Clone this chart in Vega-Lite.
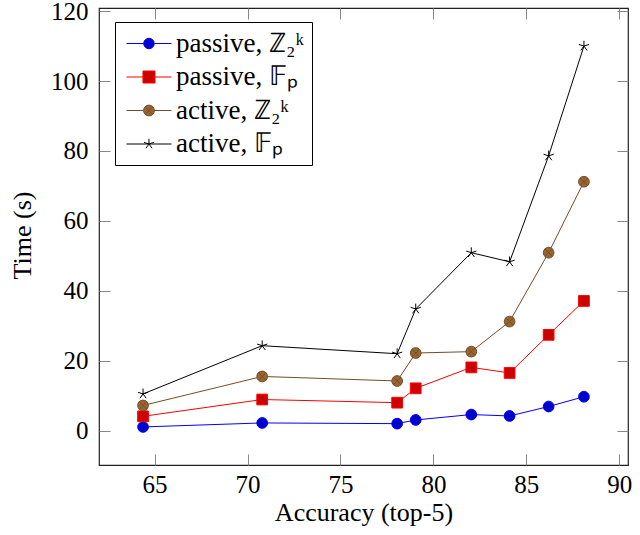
{
  "$schema": "https://vega.github.io/schema/vega-lite/v6.json",
  "width": 529,
  "height": 457,
  "autosize": {"type": "none"},
  "padding": {"left": 99, "top": 8, "right": 12, "bottom": 70},
  "background": "white",
  "config": {
    "view": {"stroke": "#222222", "strokeWidth": 1.2},
    "font": "Liberation Serif, serif",
    "axis": {
      "grid": false,
      "domain": false,
      "tickColor": "#888888",
      "tickSize": -11,
      "tickWidth": 1,
      "labelFont": "Liberation Serif, serif",
      "labelFontSize": 25,
      "labelColor": "black",
      "titleFont": "Liberation Serif, serif",
      "titleFontSize": 26,
      "titleFontWeight": "normal",
      "titleColor": "black"
    },
    "legend": {
      "labelFont": "Liberation Serif, serif",
      "labelFontSize": 27,
      "labelColor": "black"
    }
  },
  "data": {
    "values": [
      {"acc": 64.38, "time": 1.06, "series": "passive, ℤ₂ᵏ"},
      {"acc": 70.79, "time": 2.2, "series": "passive, ℤ₂ᵏ"},
      {"acc": 78.05, "time": 2.0, "series": "passive, ℤ₂ᵏ"},
      {"acc": 79.05, "time": 3.06, "series": "passive, ℤ₂ᵏ"},
      {"acc": 82.04, "time": 4.6, "series": "passive, ℤ₂ᵏ"},
      {"acc": 84.1, "time": 4.2, "series": "passive, ℤ₂ᵏ"},
      {"acc": 86.2, "time": 6.9, "series": "passive, ℤ₂ᵏ"},
      {"acc": 88.1, "time": 9.7, "series": "passive, ℤ₂ᵏ"},
      {"acc": 64.38, "time": 4.1, "series": "passive, 𝔽ₚ"},
      {"acc": 70.79, "time": 8.9, "series": "passive, 𝔽ₚ"},
      {"acc": 78.05, "time": 8.0, "series": "passive, 𝔽ₚ"},
      {"acc": 79.05, "time": 12.1, "series": "passive, 𝔽ₚ"},
      {"acc": 82.04, "time": 18.1, "series": "passive, 𝔽ₚ"},
      {"acc": 84.1, "time": 16.5, "series": "passive, 𝔽ₚ"},
      {"acc": 86.2, "time": 27.4, "series": "passive, 𝔽ₚ"},
      {"acc": 88.1, "time": 37.1, "series": "passive, 𝔽ₚ"},
      {"acc": 64.38, "time": 7.2, "series": "active, ℤ₂ᵏ"},
      {"acc": 70.79, "time": 15.5, "series": "active, ℤ₂ᵏ"},
      {"acc": 78.05, "time": 14.2, "series": "active, ℤ₂ᵏ"},
      {"acc": 79.05, "time": 22.2, "series": "active, ℤ₂ᵏ"},
      {"acc": 82.04, "time": 22.6, "series": "active, ℤ₂ᵏ"},
      {"acc": 84.1, "time": 31.2, "series": "active, ℤ₂ᵏ"},
      {"acc": 86.2, "time": 50.9, "series": "active, ℤ₂ᵏ"},
      {"acc": 88.1, "time": 71.2, "series": "active, ℤ₂ᵏ"},
      {"acc": 64.38, "time": 10.5, "series": "active, 𝔽ₚ"},
      {"acc": 70.79, "time": 24.3, "series": "active, 𝔽ₚ"},
      {"acc": 78.05, "time": 22.0, "series": "active, 𝔽ₚ"},
      {"acc": 79.05, "time": 34.8, "series": "active, 𝔽ₚ"},
      {"acc": 82.04, "time": 50.9, "series": "active, 𝔽ₚ"},
      {"acc": 84.1, "time": 48.3, "series": "active, 𝔽ₚ"},
      {"acc": 86.2, "time": 78.6, "series": "active, 𝔽ₚ"},
      {"acc": 88.1, "time": 110, "series": "active, 𝔽ₚ"}
    ]
  },
  "layer": [
    {
      "mark": {"type": "line", "strokeWidth": 1},
      "encoding": {
        "x": {"field": "acc", "type": "quantitative",
              "scale": {"domain": [62.01, 90.47], "nice": false, "zero": false},
              "axis": {"title": "Accuracy (top-5)", "values": [65, 70, 75, 80, 85, 90], "labelPadding": 18, "titlePadding": 2}},
        "y": {"field": "time", "type": "quantitative",
              "scale": {"domain": [-9.83, 120.9], "nice": false, "zero": false},
              "axis": {"title": "Time (s)", "values": [0, 20, 40, 60, 80, 100, 120], "labelPadding": 22,
                       "titleX": -77, "titleY": 227, "titleBaseline": "middle", "titleAlign": "center", "titleAngle": -90}},
        "stroke": {"field": "series", "type": "nominal",
                   "scale": {"domain": ["passive, ℤ₂ᵏ", "passive, 𝔽ₚ", "active, ℤ₂ᵏ", "active, 𝔽ₚ"],
                             "range": ["#0000ff", "#ff0000", "#734d26", "#000000"]},
                   "legend": null}
      }
    },
    {
      "mark": {"type": "point", "filled": true, "opacity": 1, "strokeWidth": 1, "size": 115},
      "encoding": {
        "x": {"field": "acc", "type": "quantitative", "axis": null},
        "y": {"field": "time", "type": "quantitative", "axis": null},
        "shape": {"field": "series", "type": "nominal",
                  "scale": {"domain": ["passive, ℤ₂ᵏ", "passive, 𝔽ₚ", "active, ℤ₂ᵏ", "active, 𝔽ₚ"],
                            "range": ["circle", "square",
                                      "M-1,0A1,1 0 1,1 1,0A1,1 0 1,1 -1,0Z M-0.707,-0.707L0.707,0.707 M-0.707,0.707L0.707,-0.707",
                                      "M0,0L0,-1 M0,0L-0.951,-0.309 M0,0L-0.588,0.809 M0,0L0.588,0.809 M0,0L0.951,-0.309"]},
                  "legend": null},
        "fill": {"field": "series", "type": "nominal",
                 "scale": {"domain": ["passive, ℤ₂ᵏ", "passive, 𝔽ₚ", "active, ℤ₂ᵏ", "active, 𝔽ₚ"],
                           "range": ["#0000cc", "#cc0000", "#996633", "#000000"]},
                 "legend": null},
        "stroke": {"field": "series", "type": "nominal",
                   "scale": {"domain": ["passive, ℤ₂ᵏ", "passive, 𝔽ₚ", "active, ℤ₂ᵏ", "active, 𝔽ₚ"],
                             "range": ["#0000ff", "#ff0000", "#734d26", "#000000"]},
                   "legend": null}
      }
    },
    {
      "mark": {"type": "point", "filled": true, "opacity": 0, "size": 144},
      "encoding": {
        "x": {"field": "acc", "type": "quantitative",
              "axis": {"orient": "top", "labels": false, "title": null, "values": [65, 70, 75, 80, 85, 90]}},
        "y": {"field": "time", "type": "quantitative",
              "axis": {"orient": "right", "labels": false, "title": null, "values": [0, 20, 40, 60, 80, 100, 120]}},
        "shape": {"field": "series", "type": "nominal",
                  "scale": {"domain": ["passive, ℤ₂ᵏ", "passive, 𝔽ₚ", "active, ℤ₂ᵏ", "active, 𝔽ₚ"],
                            "range": ["M-1.67,0H1.205M2.955,0H5.83M1.205,0A0.875,0.875 0 1,1 2.955,0A0.875,0.875 0 1,1 1.205,0Z",
                                      "M-1.67,0H1.08M3.08,0H5.83M1.08,-1H3.08V1H1.08Z",
                                      "M-1.67,0H1.18M2.98,0H5.83M1.18,0A0.9,0.9 0 1,1 2.98,0A0.9,0.9 0 1,1 1.18,0ZM1.44,-0.64L2.72,0.64M1.44,0.64L2.72,-0.64",
                                      "M-1.67,0H5.83M2.08,0L2.08,-0.87M2.08,0L1.253,-0.269M2.08,0L1.569,0.704M2.08,0L2.591,0.704M2.08,0L2.907,-0.269"]},
                  "legend": {"title": null, "orient": "none", "legendX": 16, "legendY": 14, "direction": "vertical",
                             "symbolSize": 144, "symbolStrokeWidth": 1, "symbolOpacity": 1,
                             "labelOffset": 26, "rowPadding": 5.5, "padding": 8,
                             "strokeColor": "black", "fillColor": "white"}},
        "fill": {"field": "series", "type": "nominal",
                 "scale": {"domain": ["passive, ℤ₂ᵏ", "passive, 𝔽ₚ", "active, ℤ₂ᵏ", "active, 𝔽ₚ"],
                           "range": ["#0000cc", "#cc0000", "#996633", "#000000"]}},
        "stroke": {"field": "series", "type": "nominal",
                   "scale": {"domain": ["passive, ℤ₂ᵏ", "passive, 𝔽ₚ", "active, ℤ₂ᵏ", "active, 𝔽ₚ"],
                             "range": ["#0000ff", "#ff0000", "#734d26", "#000000"]}}
      }
    }
  ],
  "resolve": {
    "scale": {"shape": "independent", "fill": "independent", "stroke": "independent"},
    "axis": {"x": "independent", "y": "independent"}
  }
}
